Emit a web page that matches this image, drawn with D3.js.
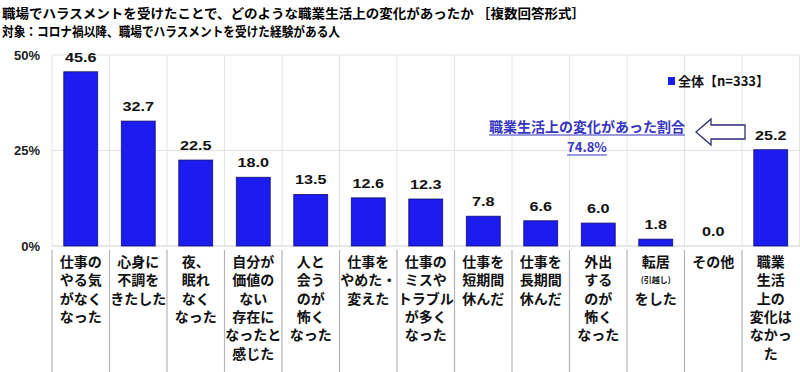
<!DOCTYPE html>
<html><head><meta charset="utf-8">
<script src="https://cdn.jsdelivr.net/npm/d3@7"></script>
<style>
html,body{margin:0;padding:0;background:#fff;}
svg{display:block;}
</style></head>
<body><svg id="c" width="800" height="372"></svg>
<script>
const titleLines = [
  "職場でハラスメントを受けたことで、どのような職業生活上の変化があったか ［複数回答形式］",
  "対象：コロナ禍以降、職場でハラスメントを受けた経験がある人"
];
const categories = ["c1","c2","c3","c4","c5","c6","c7","c8","c9","c10","c11","c12","c13"];
const categoryLabels = [
  ["仕事の","やる気","がなく","なった"],
  ["心身に","不調を","きたした"],
  ["夜、","眠れ","なく","なった"],
  ["自分が","価値の","ない","存在に","なったと","感じた"],
  ["人と","会う","のが","怖く","なった"],
  ["仕事を","やめた・","変えた"],
  ["仕事の","ミスや","トラブル","が多く","なった"],
  ["仕事を","短期間","休んだ"],
  ["仕事を","長期間","休んだ"],
  ["外出","する","のが","怖く","なった"],
  ["転居","(引越し)","をした"],
  ["その他"],
  ["職業","生活","上の","変化は","なかっ","た"]
];
const values = [45.6, 32.7, 22.5, 18.0, 13.5, 12.6, 12.3, 7.8, 6.6, 6.0, 1.8, 0.0, 25.2];
const yTicks = [0, 25, 50];
const legendLabel = "全体【n=333】";
const annotationLines = ["職業生活上の変化があった割合", "74.8%"];

const svg = d3.select("#c");
const JP = "'Noto Sans CJK JP','Noto Sans',sans-serif";
const LAT = "'Liberation Sans',Arial,sans-serif";

// title
svg.append("text").attr("x",2).attr("y",18).attr("font-family",JP).attr("font-weight","bold")
  .attr("font-size",13).attr("textLength",583).attr("lengthAdjust","spacingAndGlyphs").text(titleLines[0]);
svg.append("text").attr("x",2).attr("y",36).attr("font-family",JP).attr("font-weight","bold")
  .attr("font-size",13).attr("textLength",338).attr("lengthAdjust","spacingAndGlyphs").text(titleLines[1]);

const x0 = 52, x1 = 799.5;
const x = d3.scaleBand().domain(categories).range([x0, x1]).paddingInner(0.41).paddingOuter(0.205);
const y = d3.scaleLinear().domain([0, 50]).range([246, 55]);
const step = x.step();

// vertical gridlines in plot
const bounds = d3.range(categories.length + 1).map(i => x0 + i * step);
svg.append("g").selectAll("line").data(bounds).join("line")
  .attr("x1", d => d).attr("x2", d => d).attr("y1", y(50)).attr("y2", y(0))
  .attr("stroke", "#e4e4e4").attr("stroke-width", 1);
// horizontal gridlines
svg.append("g").selectAll("line").data(yTicks).join("line")
  .attr("x1", x0).attr("x2", 800).attr("y1", d => y(d)).attr("y2", d => y(d))
  .attr("stroke", d => d === 0 ? "#cfcfcf" : "#e4e4e4").attr("stroke-width", 1);
// separators in label area
svg.append("g").selectAll("line").data(bounds.slice(0, categories.length)).join("line")
  .attr("x1", d => d).attr("x2", d => d).attr("y1", 250).attr("y2", 372)
  .attr("stroke", "#b4b4b4").attr("stroke-width", 1.2);

// y axis
const yAxis = svg.append("g").attr("transform", `translate(${x0},0)`)
  .call(d3.axisLeft(y).tickValues(yTicks).tickFormat(d => d + "%").tickSize(0).tickPadding(12));
yAxis.select(".domain").remove();
yAxis.selectAll("text").attr("font-family", LAT).attr("font-weight", "bold").attr("font-size", 13).attr("fill", "#222");

// bars
svg.append("g").selectAll("rect").data(values).join("rect")
  .attr("x", (d, i) => x(categories[i])).attr("width", x.bandwidth())
  .attr("y", d => y(d)).attr("height", d => y(0) - y(d))
  .attr("fill", "#1c1cf0").attr("stroke", "#10106a").attr("stroke-width", 0.8);

// value labels
svg.append("g").selectAll("g").data(values).join("g")
  .attr("transform", (d, i) => `translate(${x(categories[i]) + x.bandwidth() / 2},${y(d) - 10}) scale(1.2,1)`)
  .append("text").attr("text-anchor", "middle").attr("font-family", LAT).attr("font-weight", "bold")
  .attr("font-size", 13.5).attr("fill", "#111").text(d => d.toFixed(1));

// category labels
const lg = svg.append("g");
categoryLabels.forEach((lines, i) => {
  const cx = x(categories[i]) + x.bandwidth() / 2;
  lines.forEach((t, j) => {
    const small = t.startsWith("(");
    lg.append("text").attr("x", cx).attr("y", 267 + j * 18.3 - (small ? 2 : 0))
      .attr("text-anchor", "middle").attr("font-family", JP).attr("font-weight", "bold")
      .attr("font-size", small ? 8 : 14).attr("fill", "#111").text(t);
  });
});

// legend
svg.append("rect").attr("x", 668).attr("y", 77).attr("width", 7).attr("height", 8).attr("fill", "#1c1cf0");
svg.append("text").attr("x", 678).attr("y", 86).attr("font-family", JP).attr("font-weight", "bold")
  .attr("font-size", 13).attr("fill", "#111").text(legendLabel);

// annotation
const annColor = "#3535c0";
annotationLines.forEach((t, j) => {
  const tx = svg.append("text").attr("x", 587).attr("y", 132 + j * 20).attr("text-anchor", "middle")
    .attr("font-family", JP).attr("font-weight", "bold").attr("font-size", j === 0 ? 14 : 13)
    .attr("fill", annColor).text(t);
  const w = tx.node().getComputedTextLength();
  svg.append("line").attr("x1", 587 - w / 2).attr("x2", 587 + w / 2)
    .attr("y1", 132 + j * 20 + 3).attr("y2", 132 + j * 20 + 3).attr("stroke", annColor).attr("stroke-width", 1);
});

// arrow (hollow, pointing left)
const ah = d3.path();
ah.moveTo(696, 132);
ah.lineTo(711, 119);
ah.lineTo(711, 125);
ah.lineTo(745, 125);
ah.lineTo(745, 139);
ah.lineTo(711, 139);
ah.lineTo(711, 145);
ah.closePath();
svg.append("path").attr("d", ah.toString()).attr("fill", "#fff").attr("stroke", "#2e2e78").attr("stroke-width", 1.3);
</script></body></html>
